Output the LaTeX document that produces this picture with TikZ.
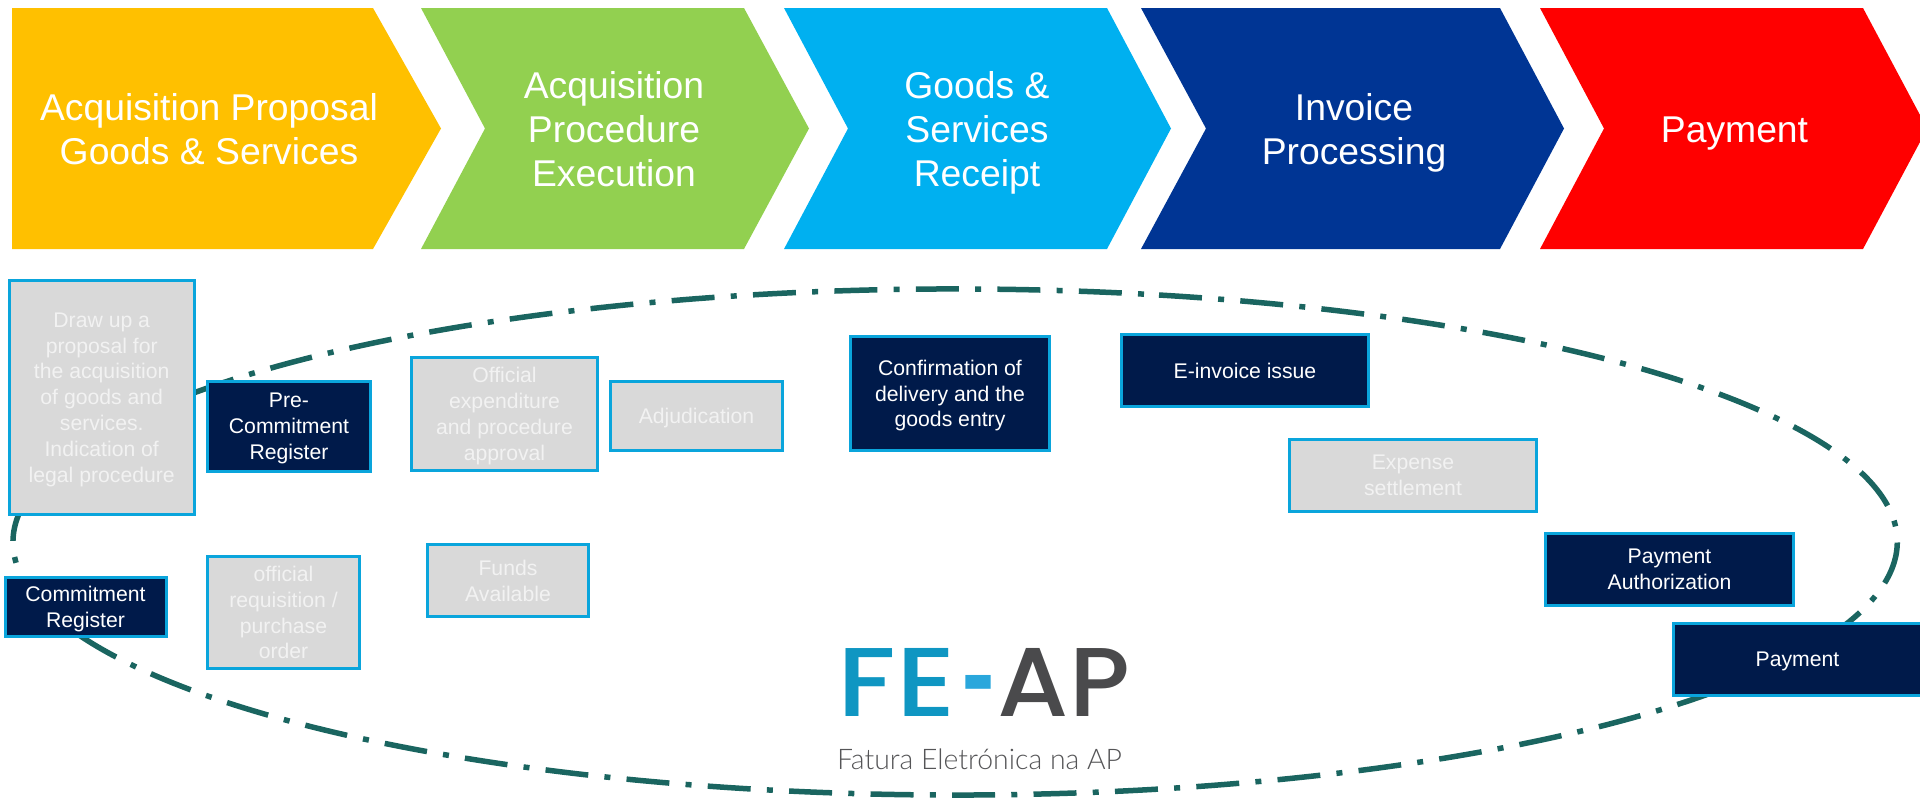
\documentclass[tikz,border=0pt]{standalone}
\usepackage{fontspec}
\usepackage{graphicx}
\setmainfont{Liberation Sans}
\newfontfamily\logobig{Poppins Medium}
\newfontfamily\logosmall{Lato Light}
\definecolor{chyellow}{HTML}{FFC000}
\definecolor{chgreen}{HTML}{92D050}
\definecolor{chcyan}{HTML}{00B0F0}
\definecolor{chnavy}{HTML}{003594}
\definecolor{chred}{HTML}{FF0000}
\definecolor{boxedge}{HTML}{0AA5DC}
\definecolor{boxdark}{HTML}{001A4A}
\definecolor{boxgrey}{HTML}{D9D9D9}
\definecolor{boxtext}{HTML}{F2F2F2}
\definecolor{ringteal}{HTML}{1A6560}
\definecolor{logoblue}{HTML}{0F96C2}
\definecolor{logodash}{HTML}{2AA7DC}
\definecolor{logogrey}{HTML}{4A4A4C}
\definecolor{logotext}{HTML}{555557}
\tikzset{
  x=1pt,y=-1pt,
  steptext/.style={text=white,align=center,inner sep=0pt,anchor=south,text depth=0pt,font=\fontsize{37.3}{44.4}\selectfont},
  taskbox/.style={draw=boxedge,line width=3pt,align=center,inner sep=0pt,text depth=0pt,font=\fontsize{21.2}{25.8}\selectfont},
  darkbox/.style={taskbox,fill=boxdark,text=white},
  greybox/.style={taskbox,fill=boxgrey,text=boxtext},
  ring/.style={draw=ringteal,line width=5.5pt,dash pattern=on 43pt off 16.25pt on 6pt off 16.25pt},
}
\begin{document}
\begin{tikzpicture}
\useasboundingbox (0,0) rectangle (1920,798);
\clip (0,0) rectangle (1920,798);
% process chevrons
\fill[chyellow] (12,8) -- (373,8) -- (441,128.5) -- (373,249) -- (12,249) -- cycle;
\fill[chgreen] (421,8) -- (744,8) -- (809,128.5) -- (744,249) -- (421,249) -- (485,128.5) -- cycle;
\fill[chcyan] (784,8) -- (1107,8) -- (1171,128.5) -- (1107,249) -- (784,249) -- (848,128.5) -- cycle;
\fill[chnavy] (1141,8) -- (1500,8) -- (1564,128.5) -- (1500,249) -- (1141,249) -- (1206,128.5) -- cycle;
\fill[chred] (1540,8) -- (1863,8) -- (1920,115) -- (1920,142) -- (1863,249) -- (1540,249) -- (1604,128.5) -- cycle;
\node[steptext] (s1) at (209,165) {Acquisition Proposal\\Goods \& Services};
\node[steptext] (s2) at (614,187) {Acquisition\\Procedure\\Execution};
\node[steptext] (s3) at (977,187) {Goods \&\\Services\\Receipt};
\node[steptext] (s4) at (1354,165) {Invoice\\Processing};
\node[steptext] (s5) at (1734.5,142.3) {Payment};
% dash-dot ring
\coordinate (ringstart) at (1159,295);
\draw[ring] (ringstart) arc[start angle=77.5,end angle=-282.5,x radius=942pt,y radius=253pt];
% tasks
\node[greybox,minimum width=185.5pt,minimum height=234pt] (draw) at (101.75,397.5) {Draw up a\\proposal for\\the acquisition\\of goods and\\services.\\Indication of\\legal procedure};
\node[darkbox,minimum width=163pt,minimum height=90pt] (pre) at (289,426.5) {Pre-\\Commitment\\Register};
\node[darkbox,minimum width=161pt,minimum height=59pt] (commit) at (85.5,607) {Commitment\\Register};
\node[greybox,minimum width=152pt,minimum height=112pt] (req) at (283.5,612.5) {official\\requisition /\\purchase\\order};
\node[greybox,minimum width=186pt,minimum height=113pt] (official) at (504.5,414) {Official\\expenditure\\and procedure\\approval};
\node[greybox,minimum width=172pt,minimum height=69pt] (adj) at (696.5,416) {Adjudication};
\node[darkbox,minimum width=199pt,minimum height=114pt] (confirm) at (950,393.5) {Confirmation of\\delivery and the\\goods entry};
\node[greybox,minimum width=161pt,minimum height=72pt] (funds) at (508,580.5) {Funds\\Available};
\node[darkbox,minimum width=247pt,minimum height=72pt] (einv) at (1245,370.5) {E-invoice issue};
\node[greybox,minimum width=247pt,minimum height=72pt] (expense) at (1413,475.5) {Expense\\settlement};
\node[darkbox,minimum width=248pt,minimum height=72pt] (auth) at (1669.5,569.5) {Payment\\Authorization};
\node[darkbox,minimum width=248pt,minimum height=72pt] (pay) at (1797.5,659.5) {Payment};
% logo
\node[inner sep=0pt,anchor=base] (logo) at (984,716) {\logobig\resizebox{118pt}{68pt}{\textcolor{logoblue}{FE}}\hspace{5pt}\raisebox{-18pt}{\resizebox{36pt}{59pt}{\textcolor{logodash}{-}}}\hspace{1pt}\resizebox{132pt}{68pt}{\textcolor{logogrey}{AP}}};
\node[inner sep=0pt,text=logotext,anchor=base] (logosub) at (979.5,769) {\resizebox{285pt}{!}{\logosmall\fontsize{28}{32}\selectfont Fatura Eletrónica na AP}};
\end{tikzpicture}
\end{document}
